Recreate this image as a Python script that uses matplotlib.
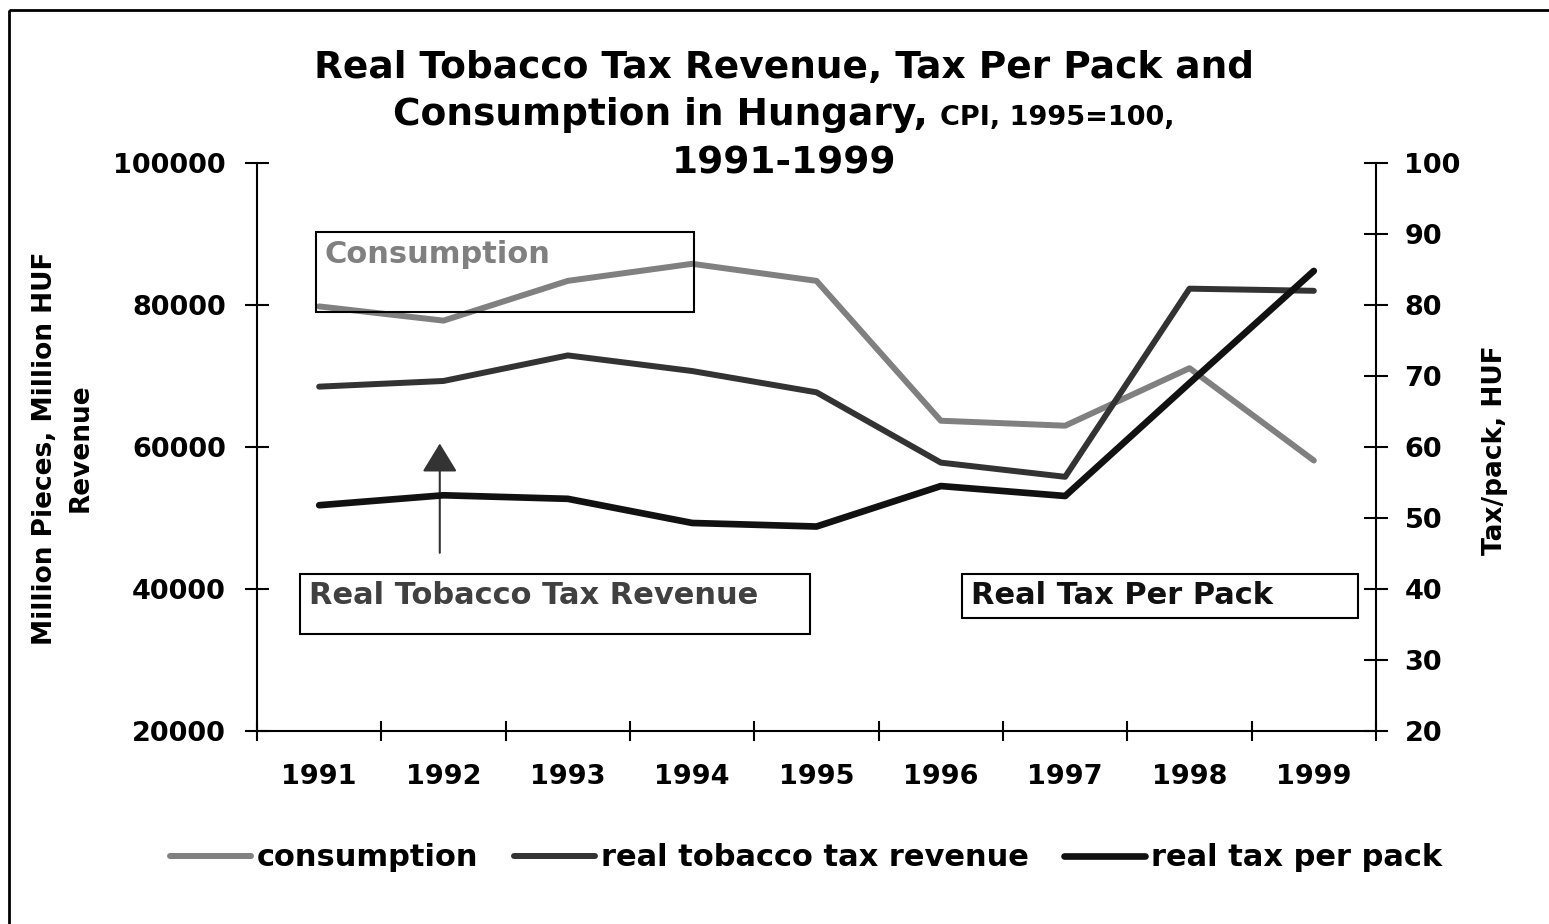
import matplotlib
matplotlib.use('Agg')
import matplotlib.pyplot as plt
import matplotlib.transforms as mtransforms
from matplotlib.patches import Rectangle
import numpy as np

# values
years = ['1991', '1992', '1993', '1994', '1995', '1996', '1997', '1998', '1999']
consumption = [79800, 77800, 83400, 85800, 83400, 63700, 63000, 71100, 58100]
tax_revenue = [68500, 69300, 72900, 70700, 67700, 57800, 55800, 82300, 82000]
tax_per_pack = [51.8, 53.2, 52.7, 49.3, 48.8, 54.5, 53.1, 69.0, 84.8]

left_ticks = [20000, 40000, 60000, 80000, 100000]
right_ticks = [20, 30, 40, 50, 60, 70, 80, 90, 100]

W, H = 1549, 924
plt.rcParams['font.family'] = 'DejaVu Sans'
plt.rcParams['font.weight'] = 'bold'

fig = plt.figure(figsize=(W / 100, H / 100), dpi=100)
# pixel coordinates, origin top left
px = mtransforms.Affine2D().scale(1 / W, -1 / H).translate(0, 1) + fig.transFigure

ax = fig.add_axes([257 / W, 1 - 731 / H, (1376 - 257) / W, (731 - 163) / H])
ax2 = ax.twinx()
x = np.arange(len(years))

l1, = ax.plot(x, consumption, color='#808080', lw=4.3, solid_capstyle='round',
              label='consumption')
l2, = ax.plot(x, tax_revenue, color='#333333', lw=4.3, solid_capstyle='round',
              label='real tobacco tax revenue')
l3, = ax2.plot(x, tax_per_pack, color='#111111', lw=4.8, solid_capstyle='round',
               label='real tax per pack')

ax.set_xlim(-0.5, len(years) - 0.5)
ax.set_xticks(np.arange(-0.5, len(years), 1))
ax.set_xticks(x, minor=True)
ax.set_xticklabels(years, minor=True)
ax.tick_params(axis='x', which='major', direction='inout', length=15, width=1.5,
               labelbottom=False)
ax.tick_params(axis='x', which='minor', length=0, pad=24, labelsize=19.5)

ax.set_ylim(20000, 100000)
ax.set_yticks(left_ticks)
ax.tick_params(axis='y', direction='inout', length=17, width=1.5, pad=14, labelsize=19.5)
ax2.set_ylim(20, 100)
ax2.set_yticks(right_ticks)
ax2.tick_params(axis='y', direction='inout', length=17, width=1.5, pad=12, labelsize=19.5)

for s in ['top', 'right']:
    ax.spines[s].set_visible(False)
for s in ['top', 'left', 'bottom']:
    ax2.spines[s].set_visible(False)
ax.spines['left'].set_linewidth(1.5)
ax.spines['bottom'].set_linewidth(1.5)
ax2.spines['right'].set_linewidth(1.5)

# arrow pointing at the revenue line
ax.annotate('', xy=(0.97, 60500), xytext=(0.97, 45100),
            arrowprops=dict(arrowstyle='-|>,head_length=0.9,head_width=0.55',
                            mutation_scale=20, lw=1.5, color='#333333',
                            shrinkA=0, shrinkB=0))

# boxed labels
def note_box(x0, y0, x1, y1, text, color, tx, ty):
    fig.add_artist(Rectangle((x0, y0), x1 - x0, y1 - y0, transform=px,
                             fill=False, ec='black', lw=1.5))
    fig.text(tx, ty, text, transform=px, color=color, fontsize=22, va='baseline')

note_box(316, 232, 694, 312, 'Consumption', '#808080', 325, 263)
note_box(300, 574, 810, 634, 'Real Tobacco Tax Revenue', '#404040', 309, 604)
note_box(962, 574, 1358, 618, 'Real Tax Per Pack', '#111111', 971, 604)

# title
fig.text(784, 78, 'Real Tobacco Tax Revenue, Tax Per Pack and', transform=px,
         ha='center', va='baseline', fontsize=27)
fig.text(928, 125, 'Consumption in Hungary,', transform=px,
         ha='right', va='baseline', fontsize=27)
fig.text(940, 125, 'CPI, 1995=100,', transform=px,
         ha='left', va='baseline', fontsize=19.5)
fig.text(784, 174, '1991-1999', transform=px, ha='center', va='baseline', fontsize=27)

fig.text(63, 448, 'Million Pieces, Million HUF\nRevenue', transform=px, rotation=90,
         ha='center', va='center', multialignment='center', fontsize=19, linespacing=1.5)
fig.text(1495, 450, 'Tax/pack, HUF', transform=px, rotation=90,
         ha='center', va='center', fontsize=19)

fig.legend([l1, l2, l3], [l1.get_label(), l2.get_label(), l3.get_label()],
           loc='center', bbox_to_anchor=(806 / W, 1 - 858 / H), ncol=3, frameon=False,
           fontsize=22, handlelength=2.65, handletextpad=0.2, columnspacing=1.15)

# outer frame
fig.add_artist(Rectangle((9, 10), 1600, 1000, transform=px, fill=False, ec='black', lw=2))

fig.savefig('out.png', dpi=100)
